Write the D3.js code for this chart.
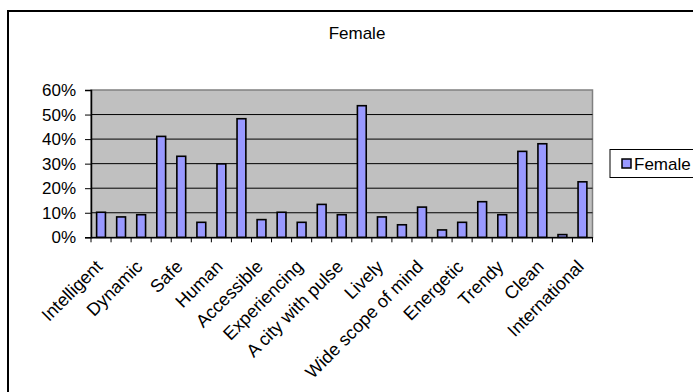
<!DOCTYPE html>
<html><head><meta charset="utf-8">
<script src="https://cdn.jsdelivr.net/npm/d3@7"></script>
<style>body{margin:0;background:#fff;} svg{display:block;}</style>
</head><body>
<script>
const labels = ["Intelligent","","Dynamic","","Safe","","Human","","Accessible","","Experiencing","","A city with pulse","","Lively","","Wide scope of mind","","Energetic","","Trendy","","Clean","","International"];
const values = [10.2,8.3,9.2,41.1,33.0,6.1,29.9,48.3,7.2,10.2,6.1,13.4,9.2,53.6,8.3,5.1,12.3,3.0,6.1,14.5,9.2,35.0,38.1,1.1,22.6];
const yTicks = [0,10,20,30,40,50,60];
const seriesName = "Female";
const title = "Female";

const W = 693, H = 392;
const FS = 17;
const FF = "'Liberation Sans', Arial, sans-serif";
const svg = d3.select("body").append("svg").attr("width", W).attr("height", H)
  .style("font-family", FF);

// outer frame
svg.append("rect").attr("x", 8).attr("y", 11).attr("width", 700).attr("height", 400)
  .attr("fill", "#fff").attr("stroke", "#000").attr("stroke-width", 2);

const m = {left: 91, right: 592.5, top: 90, bottom: 237.3};
const x = d3.scaleBand().domain(d3.range(values.length)).range([m.left, m.right]).paddingInner(0.56).paddingOuter(0.28);
const xb = d3.scaleBand().domain(d3.range(values.length)).range([m.left, m.right]);
const y = d3.scaleLinear().domain([0, 60]).range([m.bottom, m.top]);

// plot background
svg.append("rect").attr("x", m.left).attr("y", m.top).attr("width", m.right - m.left).attr("height", m.bottom - m.top)
  .attr("fill", "#C0C0C0").attr("stroke", "#808080").attr("stroke-width", 1.5);

// gridlines
svg.append("g").selectAll("line").data(yTicks.filter(t => t > 0 && t < 60)).join("line")
  .attr("x1", m.left).attr("x2", m.right).attr("y1", d => y(d)).attr("y2", d => y(d))
  .attr("stroke", "#000").attr("stroke-width", 1);

// bars
svg.append("g").selectAll("rect").data(values).join("rect")
  .attr("x", (d, i) => x(i)).attr("width", x.bandwidth())
  .attr("y", d => y(d)).attr("height", d => y(0) - y(d))
  .attr("fill", "#9999FF").attr("stroke", "#000").attr("stroke-width", 1.6);

// y axis
const yAxis = svg.append("g").attr("transform", `translate(${m.left},0)`)
  .call(d3.axisLeft(y).tickValues(yTicks).tickFormat(d => d + "%").tickSize(6).tickPadding(9));
yAxis.select(".domain").attr("stroke", "#000").attr("stroke-width", 1.5);
yAxis.selectAll(".tick line").attr("stroke", "#000");
yAxis.selectAll("text").attr("font-size", FS).attr("fill", "#000").attr("font-family", FF);

// x axis
const xAxis = svg.append("g").attr("transform", `translate(0,${m.bottom})`)
  .call(d3.axisBottom(xb).tickValues([]).tickSize(0));
xAxis.select(".domain").attr("stroke", "#000").attr("stroke-width", 1.5);
const bounds = d3.range(values.length + 1).map(i => m.left + i * xb.step());
xAxis.selectAll(".tk").data(bounds).join("line").attr("class", "tk")
  .attr("x1", d => d).attr("x2", d => d).attr("y1", 0).attr("y2", 5).attr("stroke", "#000");
xAxis.selectAll(".lbl").data(labels).join("text").attr("class", "lbl")
  .attr("transform", (d, i) => `translate(${xb(i) + xb.bandwidth() / 2 - 2},${26}) rotate(-45)`)
  .attr("text-anchor", "end").attr("dy", "0.35em")
  .attr("font-size", 18).attr("fill", "#000")
  .attr("font-family", FF)
  .text(d => d);

// title
svg.append("text").attr("x", 357).attr("y", 39).attr("text-anchor", "middle")
  .attr("font-size", FS).attr("fill", "#000").text(title);

// legend
const lg = svg.append("g");
lg.append("rect").attr("x", 610).attr("y", 149.5).attr("width", 100).attr("height", 28)
  .attr("fill", "#fff").attr("stroke", "#000").attr("stroke-width", 1);
lg.append("rect").attr("x", 622).attr("y", 159).attr("width", 9).attr("height", 9)
  .attr("fill", "#9999FF").attr("stroke", "#000").attr("stroke-width", 1.5);
lg.append("text").attr("x", 634).attr("y", 169.5).attr("font-size", FS).attr("fill", "#000").text(seriesName);
</script>
</body></html>
